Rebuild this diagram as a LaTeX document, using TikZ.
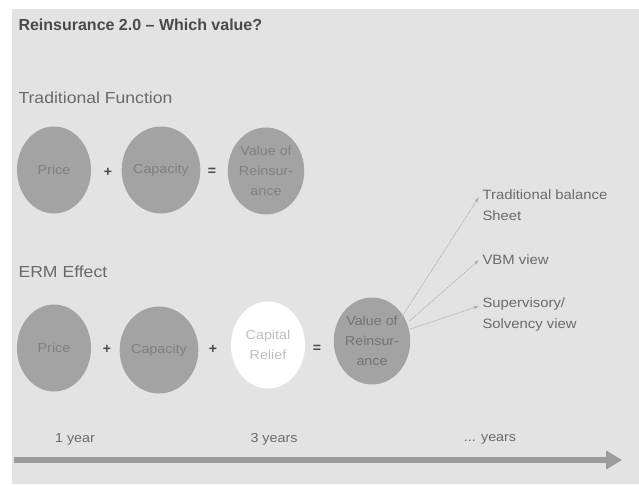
\documentclass[tikz,border=0pt]{standalone}
\usepackage{fontspec}
\setmainfont{Liberation Sans}
\newfontfamily\widefont[FakeStretch=1.1]{Liberation Sans}
\usetikzlibrary{arrows.meta,shapes.geometric}
\definecolor{bggray}{HTML}{E3E3E3}
\definecolor{discgray}{HTML}{A3A3A3}
\definecolor{disctext}{HTML}{808080}
\definecolor{labeltext}{HTML}{6A6A6A}
\definecolor{titletext}{HTML}{4A4A4A}
\definecolor{axisgray}{HTML}{9C9C9C}
\begin{document}
\begin{tikzpicture}[x=1pt,y=-1pt,
  disc/.style={ellipse,fill=discgray,minimum width=74pt,minimum height=87pt,inner sep=0pt,
    font=\widefont\fontsize{13}{20}\selectfont,text=disctext,align=center},
  whitedisc/.style={disc,fill=white,text=black!25},
  op/.style={font=\fontsize{14}{14}\selectfont\bfseries,text=titletext},
  heading/.style={anchor=west,font=\widefont\fontsize{16}{18}\selectfont,text=labeltext},
  view/.style={anchor=west,font=\widefont\fontsize{13.5}{21}\selectfont,text=labeltext,align=left},
  yearlbl/.style={font=\widefont\fontsize{13}{15}\selectfont,text=labeltext},
  viewarrow/.style={draw=black!30,line width=0.8pt,dash pattern=on 1.5pt off 1pt,-{Latex[length=5pt,width=4pt]}}]
\useasboundingbox (0,0) rectangle (639,484);
\fill[white] (0,0) rectangle (639,484);
\fill[bggray] (12,9) rectangle (639,484);

% title and section headings
\node[anchor=west,font=\fontsize{16}{18}\selectfont\bfseries,text=titletext] (title) at (15,25) {Reinsurance 2.0 -- Which value?};
\node[heading] (trad) at (15,98) {Traditional Function};
\node[heading] (erm) at (15,272) {ERM Effect};

% traditional function row
\node[disc] (p1) at (54,170) {Price};
\node[op] (plus1) at (108,172) {+};
\node[disc] (c1) at (161,170) {Capacity};
\node[op] (eq1) at (212,172) {=};
\node[disc] (v1) at (266,171) {Value of\\Reinsur-\\ance};

% ERM effect row
\node[disc] (p2) at (54,348) {Price};
\node[op] (plus2) at (107,349) {+};
\node[disc] (c2) at (159,350) {Capacity};
\node[op] (plus3) at (213,349) {+};
\node[whitedisc] (cr) at (268,345) {Capital\\Relief};
\node[op] (eq2) at (317,349) {=};
\node[disc,text=black!55] (v2) at (372,341) {Value of\\Reinsur-\\ance};

% accounting views
\node[view] (tbs) at (479,205) {Traditional balance\\Sheet};
\node[view] (vbm) at (479,260) {VBM view};
\node[view] (sol) at (479,315) {Supervisory/\\Solvency view};
\draw[viewarrow] (v2.north east) ++(-2,14) -- (tbs.west |- 0,197);
\draw[viewarrow] (v2.east) ++(-1,-20) -- (vbm.west);
\draw[viewarrow] (v2.east) ++(0,-12) -- (sol.west |- 0,306);

% time axis
\node[yearlbl] (y1) at (75,439) {1 year};
\node[yearlbl] (y3) at (274,439) {3 years};
\node[yearlbl] (yn) at (490,439) {... years};
\coordinate (axstart) at (14,460);
\coordinate (axend) at (622,460);
\draw[axisgray,line width=6pt,-{Triangle[length=16pt,width=18pt]}] (axstart) -- (axend);
\end{tikzpicture}
\end{document}
